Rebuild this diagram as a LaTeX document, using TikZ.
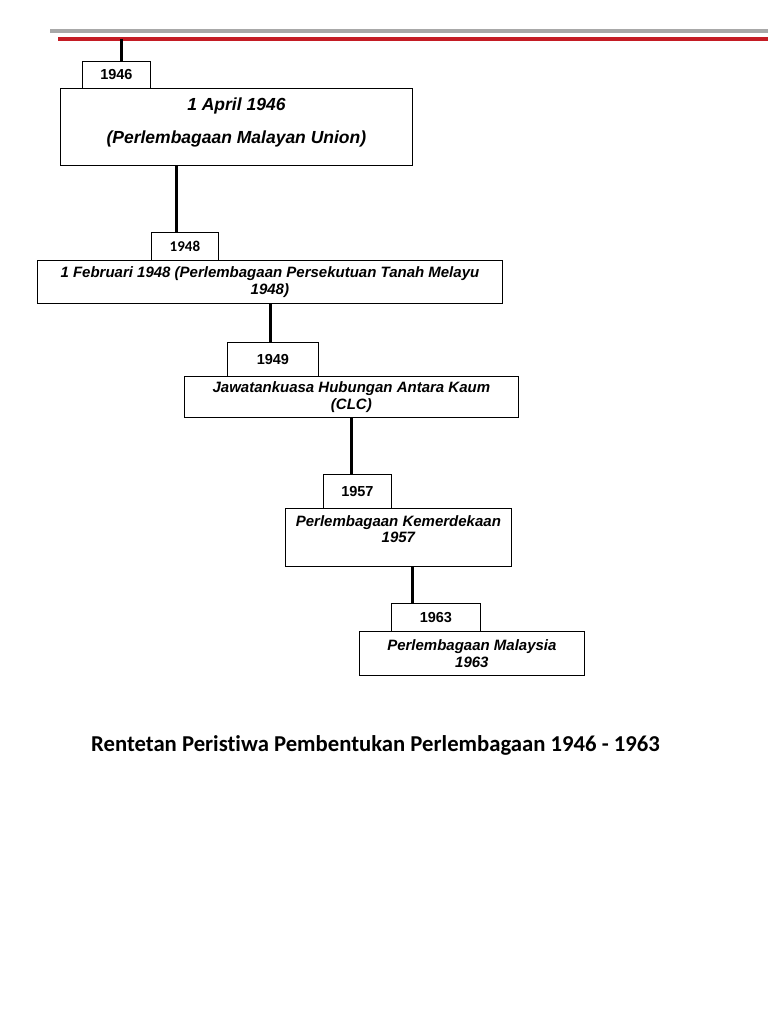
\documentclass[tikz,border=0pt]{standalone}
\usepackage{fontspec}
\setmainfont{Liberation Sans}
\newfontfamily\calibrifont[Ligatures=NoCommon]{Carlito}
\definecolor{barGray}{RGB}{168,168,168}
\definecolor{barRed}{RGB}{196,28,36}

\begin{document}
\begin{tikzpicture}[x=1pt,y=-1pt,
    yearbox/.style={draw, line width=0.8pt, inner sep=0pt, anchor=north west,
        font=\bfseries\fontsize{14.5}{16}\selectfont},
    eventbox/.style={draw, line width=0.8pt, inner sep=0pt, anchor=north west,
        align=center, font=\bfseries\itshape\fontsize{15}{16.5}\selectfont},
    link/.style={line width=3pt}]

    % page size
    \useasboundingbox (0,0) rectangle (768,1024);

    % Header bars
    \draw[barGray, line width=4pt] (50,31) -- (768,31);
    \coordinate (redL) at (58,39);
    \coordinate (redR) at (768,39);
    \draw[barRed, line width=4pt] (redL) -- (redR);
    \coordinate (top) at (121,39);

    % 1946
    \node[yearbox, minimum width=68pt, minimum height=27pt] (y46) at (82,61) {1946};
    \node[eventbox, minimum width=352pt, minimum height=77pt,
        font=\bfseries\itshape\fontsize{17.5}{20}\selectfont] (e46) at (60,88)
        {1 April 1946\\[13pt](Perlembagaan Malayan Union)\\[-8pt]\mbox{}};

    % 1948
    \node[yearbox, minimum width=67pt, minimum height=28pt,
        font=\calibrifont\bfseries\fontsize{15}{17}\selectfont] (y48) at (151,232) {1948};
    \node[eventbox, minimum width=465pt, minimum height=43pt] (e48) at (37,260)
        {1 Februari 1948 (Perlembagaan Persekutuan Tanah Melayu\\1948)};

    % 1949
    \node[yearbox, minimum width=91pt, minimum height=34pt] (y49) at (227,342) {1949};
    \node[eventbox, minimum width=334pt, minimum height=41pt] (e49) at (184,376)
        {Jawatankuasa Hubungan Antara Kaum\\(CLC)};

    % 1957
    \node[yearbox, minimum width=68pt, minimum height=34pt] (y57) at (323,474) {1957};
    \node[eventbox, minimum width=226pt, minimum height=58pt] (e57) at (285,508)
        {Perlembagaan Kemerdekaan\\1957\\\mbox{}};

    % 1963
    \node[yearbox, minimum width=89pt, minimum height=28pt] (y63) at (391,603) {1963};
    \node[eventbox, minimum width=225pt, minimum height=44pt] (e63) at (359,631)
        {Perlembagaan Malaysia\\1963};

    % Connectors
    \draw[link] (top) -- (top |- y46.north);
    \draw[link] (e46.south -| 176,0) -- (y48.north -| 176,0);
    \draw[link] (e48.south -| 270,0) -- (y49.north -| 270,0);
    \draw[link] (e49.south -| 351,0) -- (y57.north -| 351,0);
    \draw[link] (e57.south -| 412,0) -- (y63.north -| 412,0);

    % Caption
    \node[font=\calibrifont\bfseries\fontsize{22.7}{26}\selectfont] (caption) at (375.5,745)
        {Rentetan Peristiwa Pembentukan Perlembagaan 1946 - 1963};

\end{tikzpicture}
\end{document}
